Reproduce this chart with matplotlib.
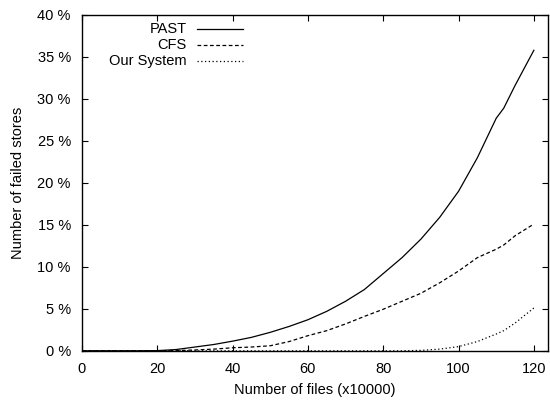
import matplotlib
matplotlib.use("Agg")
import matplotlib.pyplot as plt
from matplotlib.lines import Line2D
from matplotlib.ticker import FuncFormatter

plt.rcParams['font.family'] = ['Liberation Sans', 'DejaVu Sans']

files = [0, 5, 10, 15, 20, 25, 30, 35, 40, 45, 50, 55, 60, 65, 70, 75, 80,
         85, 90, 95, 100, 105, 110, 112, 115, 120]
past = [0, 0, 0, 0, 0.02, 0.15, 0.45, 0.75, 1.15, 1.6, 2.2, 2.9, 3.7, 4.7, 5.9,
        7.3, 9.2, 11.1, 13.3, 15.9, 19.0, 23.0, 27.7, 28.9, 31.6, 35.8]
cfs = [0, 0, 0, 0, 0, 0.02, 0.1, 0.2, 0.36, 0.45, 0.6, 1.1, 1.8, 2.4, 3.2,
       4.1, 4.95, 5.9, 6.85, 8.1, 9.5, 11.1, 12.1, 12.6, 13.7, 15.1]
ours = [0, 0, 0, 0, 0, 0, 0, 0, 0, 0, 0, 0, 0, 0, 0,
        0, 0, 0, 0.05, 0.2, 0.5, 1.1, 2.0, 2.4, 3.3, 5.1]

series_names = ['PAST', 'CFS', 'Our System']
styles = ['-', (0, (3, 2)), (0, (1, 2))]

fig = plt.figure(figsize=(5.5, 4), dpi=100)
ax = fig.add_axes([0.149, 0.123, 0.847, 0.8395])

for y, ls in zip([past, cfs, ours], styles):
    ax.plot(files, y, color='black', linestyle=ls, linewidth=0.9)

ax.set_xlim(0, 123.7)
ax.set_ylim(0, 40)
ax.set_xticks([0, 20, 40, 60, 80, 100, 120])
ax.set_yticks([0, 5, 10, 15, 20, 25, 30, 35, 40])
ax.yaxis.set_major_formatter(FuncFormatter(lambda v, p: f"{int(v)} %"))
ax.tick_params(direction='in', top=True, right=True, length=4, width=0.8,
               labelsize=10.5, colors='black')
ax.tick_params(axis='x', pad=8)
ax.tick_params(axis='y', pad=8)
for s in ax.spines.values():
    s.set_linewidth(1.0)

ax.set_xlabel('Number of files (x10000)', fontsize=10.5, labelpad=5)
ax.set_ylabel('Number of failed stores', fontsize=10.5, labelpad=9)

# legend (gnuplot style: right-aligned text, sample to the right)
tx = (187 - 82) / 466.0
lx0 = (197 - 82) / 466.0
lx1 = (243 - 82) / 466.0
for i, (name, ls) in enumerate(zip(series_names, styles)):
    yy = 1 - (29 + 16.2 * i - 15) / 335.7
    ax.text(tx, yy, name, transform=ax.transAxes, ha='right', va='center',
            fontsize=10.5)
    ax.add_line(Line2D([lx0, lx1], [yy, yy], transform=ax.transAxes,
                       color='black', linestyle=ls, linewidth=0.9))

fig.savefig('out.png', dpi=100)
